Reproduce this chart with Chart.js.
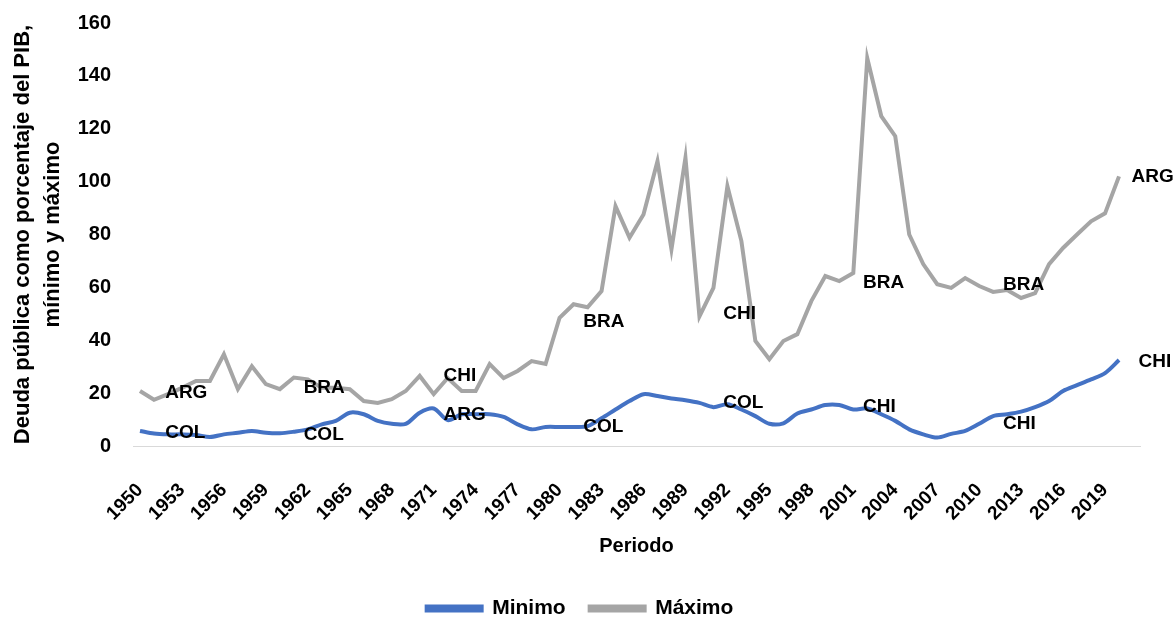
<!DOCTYPE html>
<html>
<head>
<meta charset="utf-8">
<script src="https://cdn.jsdelivr.net/npm/chart.js@4"></script>
<style>
  body { margin: 0; background: #fff; }
  #wrap { width: 1175px; height: 623px; }
</style>
</head>
<body>
<div id="wrap"><canvas id="deuda-chart" width="1175" height="623"></canvas></div>
<script>
/* ---------- data ---------- */
const years = [];
for (let y = 1950; y <= 2021; y++) years.push(String(y));   // 2021 is an empty slot on the axis

const minimo = [
  5.7, 4.7, 4.4, 4.4, 4.2, 3.4, 4.4, 5.0, 5.7, 5.0,      // 1950-59
  4.8, 5.4, 6.3, 8.2, 9.5, 12.6, 12.0, 9.5, 8.4, 8.4,    // 1960-69
  12.6, 14.2, 9.8, 12.0, 12.0, 12.0, 11.0, 8.2, 6.3, 7.2,  // 1970-79
  7.2, 7.2, 7.5, 10.5, 13.8, 17.0, 19.6, 18.9, 18.0, 17.3, // 1980-89
  16.3, 14.7, 15.8, 13.8, 11.3, 8.4, 8.6, 12.3, 13.8, 15.5, // 1990-99
  15.5, 13.8, 14.2, 12.0, 9.5, 6.3, 4.4, 3.2, 4.6, 5.7,  // 2000-09
  8.4, 11.3, 12.0, 13.0, 14.7, 17.0, 20.8, 23.0, 25.2, 27.6, // 2010-19
  32.5, null                                              // 2020-21
];

const maximo = [
  20.8, 17.5, 19.6, 22.0, 24.6, 24.6, 34.7, 21.5, 30.2, 23.4, // 1950-59
  21.5, 25.9, 25.2, 22.0, 22.0, 21.5, 17.0, 16.3, 17.7, 20.8, // 1960-69
  26.5, 19.6, 25.7, 20.8, 20.8, 31.0, 25.7, 28.4, 32.1, 31.0, // 1970-79
  48.5, 53.6, 52.5, 58.6, 90.7, 78.8, 87.6, 107.7, 74.4, 109.0, // 1980-89
  49.0, 59.8, 98.3, 77.5, 39.7, 32.8, 39.7, 42.3, 54.8, 64.3, // 1990-99
  62.4, 65.4, 146.7, 124.8, 117.2, 80.0, 68.8, 61.2, 59.8, 63.5, // 2000-09
  60.5, 58.3, 59.0, 56.0, 57.8, 68.8, 74.9, 80.0, 85.0, 88.0, // 2010-19
  102.0, null                                              // 2020-21
];

const yTicks = [0, 20, 40, 60, 80, 100, 120, 140, 160];

// country labels written inside the plot (year, value where the text starts)
const labelText  = ['ARG', 'COL', 'BRA', 'COL', 'CHI', 'ARG', 'BRA', 'COL',
                    'CHI', 'COL', 'BRA', 'CHI', 'BRA', 'CHI', 'ARG', 'CHI'];
const labelYear  = [1951.8, 1951.8, 1961.7, 1961.7, 1971.7, 1971.7, 1981.7, 1981.7,
                    1991.7, 1991.7, 2001.7, 2001.7, 2011.7, 2011.7, 2020.9, 2021.4];
const labelValue = [20, 4.9, 22, 4.2, 26.5, 12, 47, 7.2,
                    50, 16.3, 61.6, 15, 61, 8.3, 101.7, 32];

/* ---------- helpers ---------- */
const FONT = "'Liberation Sans', Arial, sans-serif";

const countryLabels = {
  id: 'countryLabels',
  afterDatasetsDraw(chart) {
    const { ctx, scales: { x, y } } = chart;
    ctx.save();
    ctx.font = `bold 19px ${FONT}`;
    ctx.fillStyle = '#000';
    ctx.textAlign = 'left';
    ctx.textBaseline = 'middle';
    labelText.forEach((t, i) => {
      const px = x.getPixelForValue(labelYear[i] - 1950);
      const py = y.getPixelForValue(labelValue[i]);
      ctx.fillText(t, px, py);
    });
    ctx.restore();
  }
};

// legend sits a little right of the default centre in the original
const nudgeLegend = {
  id: 'nudgeLegend',
  afterLayout(chart) {
    chart.legend.left += 10;
    chart.legend.right += 10;
  }
};

/* ---------- chart ---------- */
new Chart(document.getElementById('deuda-chart'), {
  type: 'line',
  data: {
    labels: years,
    datasets: [
      {
        label: 'Minimo',
        data: minimo,
        borderColor: '#4472C4',
        backgroundColor: '#4472C4',
        borderWidth: 4,
        pointRadius: 0,
        tension: 0.3
      },
      {
        label: 'Máximo',
        data: maximo,
        borderColor: '#A5A5A5',
        backgroundColor: '#A5A5A5',
        borderWidth: 4,
        pointRadius: 0,
        tension: 0
      }
    ]
  },
  options: {
    responsive: false,
    animation: false,
    layout: { padding: { top: 23, right: 35, bottom: -6, left: 0 } },
    plugins: {
      tooltip: { enabled: false },
      legend: {
        position: 'bottom',
        labels: {
          boxWidth: 55,
          boxHeight: 4,
          padding: 24,
          color: '#000',
          font: { family: FONT, size: 21, weight: 'bold' }
        }
      }
    },
    scales: {
      x: {
        offset: true,
        grid: { display: false, drawTicks: false },
        border: { display: true, color: '#d9d9d9', width: 1 },
        ticks: {
          autoSkip: false,
          maxRotation: 45,
          minRotation: 45,
          padding: 33,
          color: '#000',
          font: { family: FONT, size: 19, weight: 'bold' },
          callback: (v, i) => (i % 3 === 0 && i < 70 ? years[i] : '')
        },
        title: {
          display: true,
          text: 'Periodo',
          color: '#000',
          font: { family: FONT, size: 20, weight: 'bold' },
          padding: { top: 0, bottom: 16 }
        },
        afterFit: s => {
          s.height = 128;
          s.paddingLeft = 0;      // tick padding would otherwise narrow the plot
          s.paddingRight = 0;
        }
      },
      y: {
        min: 0,
        max: 160,
        afterBuildTicks: s => { s.ticks = yTicks.map(v => ({ value: v })); },
        grid: { display: false, drawTicks: false },
        border: { display: false },
        ticks: {
          padding: 22,
          color: '#000',
          font: { family: FONT, size: 20, weight: 'bold' }
        },
        title: {
          display: true,
          text: ['Deuda pública como porcentaje del PIB,', 'mínimo y máximo'],
          color: '#000',
          font: { family: FONT, size: 22, weight: 'bold', lineHeight: 1.364 },
          padding: { top: 8, bottom: 0 }
        },
        afterFit: s => {
          s.width = 133;
          s.paddingTop = 12;      // keep the tick gap from pushing the plot down
          s.paddingBottom = 12;
        }
      }
    }
  },
  plugins: [countryLabels, nudgeLegend]
});
</script>
</body>
</html>
